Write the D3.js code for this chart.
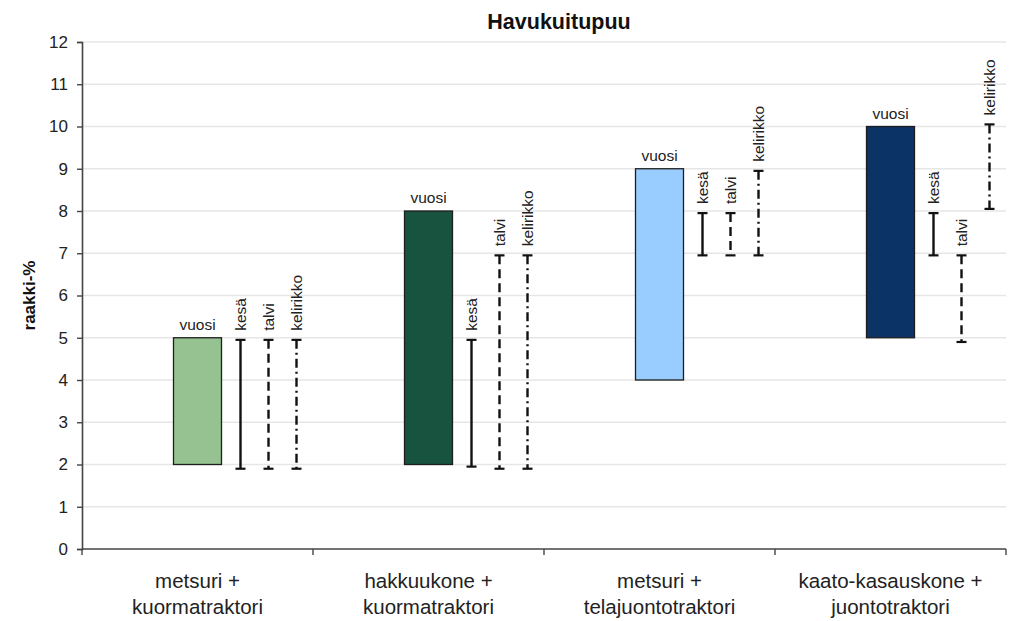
<!DOCTYPE html>
<html>
<head>
<meta charset="utf-8">
<script src="https://cdn.jsdelivr.net/npm/d3@7"></script>
<style>
  html, body { margin: 0; padding: 0; background: #fff; }
  svg { display: block; font-family: "Liberation Sans", Arial, sans-serif; }
</style>
</head>
<body>
<svg id="chart" width="1018" height="621"></svg>
<script>
// Chain categories (two-line labels)
const categories = [
  ["metsuri +", "kuormatraktori"],
  ["hakkuukone +", "kuormatraktori"],
  ["metsuri +", "telajuontotraktori"],
  ["kaato-kasauskone +", "juontotraktori"]
];

// Whole-year range (bars)
const vuosiLow  = [2, 2, 4, 5];
const vuosiHigh = [5, 8, 9, 10];

// Seasonal ranges (drawn as range lines)
const kesaLow       = [1.9, 1.95, 6.95, 6.95];
const kesaHigh      = [4.95, 4.95, 7.95, 7.95];
const talviLow      = [1.9, 1.9, 6.95, 4.9];
const talviHigh     = [4.95, 6.95, 7.95, 6.95];
const kelirikkoLow  = [1.9, 1.9, 6.95, 8.05];
const kelirikkoHigh = [4.95, 6.95, 8.95, 10.05];

const seasonNames = ["kesä", "talvi", "kelirikko"];
const yTicks = [0, 1, 2, 3, 4, 5, 6, 7, 8, 9, 10, 11, 12];

const barColors = ["#96c291", "#17533f", "#99ccff", "#0b3366"];
const seasonDash = { "kesä": null, "talvi": "9,5", "kelirikko": "9,4,2,4" };

const svg = d3.select("#chart");
const plotLeft = 82, plotRight = 1006, plotTop = 42, plotBottom = 549;

const x = d3.scaleBand().domain(d3.range(categories.length)).range([plotLeft, plotRight]);
const y = d3.scaleLinear().domain([0, 12]).range([plotBottom, plotTop]);
const sub = d3.scalePoint().domain(seasonNames).range([43, 99]);

// Gridlines
svg.append("g").selectAll("line").data(yTicks.filter(d => d > 0)).join("line")
  .attr("x1", plotLeft).attr("x2", plotRight)
  .attr("y1", d => y(d)).attr("y2", d => y(d))
  .attr("stroke", "#e6e6e6").attr("stroke-width", 1.5);

// Y axis
const yAxis = svg.append("g").attr("transform", `translate(${plotLeft},0)`)
  .call(d3.axisLeft(y).tickValues(yTicks).tickSize(5).tickPadding(9).tickFormat(d3.format("d")));
yAxis.select(".domain").attr("stroke", "#444").attr("stroke-width", 1.6);
yAxis.selectAll(".tick line").attr("stroke", "#444").attr("stroke-width", 1.4);
yAxis.selectAll(".tick text").attr("font-size", 17).attr("fill", "#222")
  .attr("font-family", "Liberation Sans, Arial, sans-serif");

// X axis with boundary ticks
const xAxisG = svg.append("g");
xAxisG.append("line").attr("x1", plotLeft).attr("x2", plotRight)
  .attr("y1", plotBottom).attr("y2", plotBottom).attr("stroke", "#444").attr("stroke-width", 1.6);
const bounds = d3.range(categories.length + 1).map(i => i < categories.length ? x(i) : x(i - 1) + x.bandwidth());
xAxisG.selectAll("line.tk").data(bounds).join("line").attr("class", "tk")
  .attr("x1", d => d).attr("x2", d => d)
  .attr("y1", plotBottom).attr("y2", plotBottom + 6)
  .attr("stroke", "#444").attr("stroke-width", 1.4);

// Category labels
const catG = svg.append("g").selectAll("text").data(categories).join("text")
  .attr("x", (d, i) => x(i) + x.bandwidth() / 2)
  .attr("text-anchor", "middle").attr("font-size", 20.5).attr("fill", "#222");
catG.selectAll("tspan").data(d => d).join("tspan")
  .attr("x", function () { return d3.select(this.parentNode).attr("x"); })
  .attr("y", (d, j) => 588 + j * 26)
  .text(d => d);

// Bars (vuosi)
const barW = 48;
svg.append("g").selectAll("rect").data(categories).join("rect")
  .attr("x", (d, i) => x(i) + x.bandwidth() / 2 - barW / 2)
  .attr("width", barW)
  .attr("y", (d, i) => y(vuosiHigh[i]))
  .attr("height", (d, i) => y(vuosiLow[i]) - y(vuosiHigh[i]))
  .attr("fill", (d, i) => barColors[i])
  .attr("stroke", "#1e1e1e").attr("stroke-width", 1.3);

svg.append("g").selectAll("text").data(categories).join("text")
  .attr("x", (d, i) => x(i) + x.bandwidth() / 2)
  .attr("y", (d, i) => y(vuosiHigh[i]) - 8)
  .attr("text-anchor", "middle").attr("font-size", 15.5).attr("fill", "#222")
  .text("vuosi");

// Seasonal range lines
const seasons = [
  { name: "kesä", lo: kesaLow, hi: kesaHigh },
  { name: "talvi", lo: talviLow, hi: talviHigh },
  { name: "kelirikko", lo: kelirikkoLow, hi: kelirikkoHigh }
];
const capW = 10;
const items = [];
seasons.forEach(s => categories.forEach((c, i) => items.push({ s: s.name, i, lo: s.lo[i], hi: s.hi[i] })));

const rg = svg.append("g").selectAll("g").data(items).join("g")
  .attr("transform", d => `translate(${x(d.i) + x.bandwidth() / 2 + sub(d.s)},0)`);
rg.append("line")
  .attr("x1", 0).attr("x2", 0)
  .attr("y1", d => y(d.hi)).attr("y2", d => y(d.lo))
  .attr("stroke", "#111").attr("stroke-width", 2.4)
  .attr("stroke-dasharray", d => seasonDash[d.s]);
rg.selectAll("line.cap").data(d => [d.hi, d.lo]).join("line").attr("class", "cap")
  .attr("x1", -capW / 2).attr("x2", capW / 2)
  .attr("y1", v => y(v)).attr("y2", v => y(v))
  .attr("stroke", "#111").attr("stroke-width", 2.2);
rg.append("text")
  .attr("transform", d => `translate(5,${y(d.hi) - 9}) rotate(-90)`)
  .attr("font-size", 15.5).attr("fill", "#222")
  .text(d => d.s);

// Title and axis title
svg.append("text").attr("x", 559).attr("y", 29).attr("text-anchor", "middle")
  .attr("font-size", 21.5).attr("font-weight", "bold").attr("fill", "#111")
  .text("Havukuitupuu");
svg.append("text").attr("transform", `translate(35,${(plotTop + plotBottom) / 2}) rotate(-90)`)
  .attr("text-anchor", "middle").attr("font-size", 17).attr("font-weight", "bold").attr("fill", "#111")
  .text("raakki-%");
</script>
</body>
</html>
